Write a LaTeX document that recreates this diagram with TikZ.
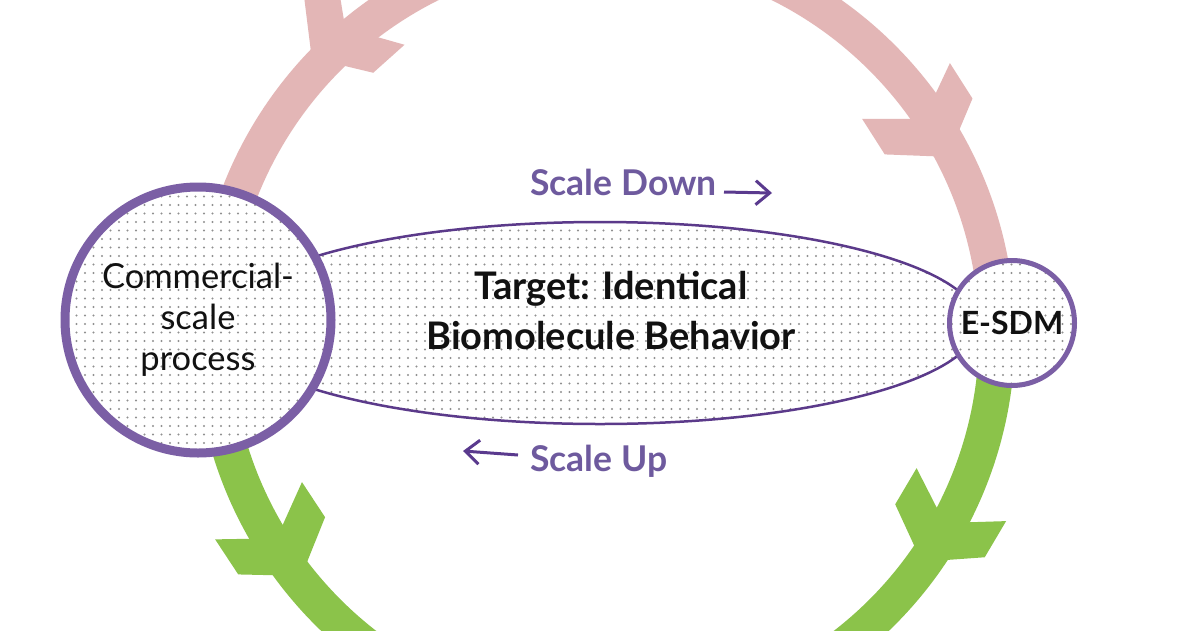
\documentclass[tikz,border=0pt]{standalone}
\usepackage{fontspec}
\setmainfont{Lato}
\usetikzlibrary{calc,arrows.meta,shapes.geometric,patterns}
\pgfdeclarepatternformonly{halftone}{\pgfqpoint{-1.5pt}{-1.5pt}}{\pgfqpoint{1.5pt}{1.5pt}}{\pgfqpoint{8.5pt}{8.5pt}}{\pgfpathcircle{\pgfqpoint{0pt}{0pt}}{1.1pt}\pgfusepath{fill}}
\definecolor{ringpink}{HTML}{E3B6B6}
\definecolor{ringgreen}{HTML}{8BC34A}
\definecolor{circpurple}{HTML}{7B5FA5}
\definecolor{ellpurple}{HTML}{5B3A8A}
\definecolor{labpurple}{HTML}{6E5A9E}
\definecolor{arrpurple}{HTML}{5A3A8E}
\definecolor{dotgray}{HTML}{909090}
\definecolor{txtblack}{HTML}{111111}
\newcommand\mychev[4]{%
  \begin{scope}[shift={($(C)+(#1:#2)$)},rotate=#3]
    \fill[#4] (34,0)--(-2,52)--(-44,52)--(-11,0)--(-44,-52)--(-2,-52)--cycle;
  \end{scope}}
\tikzset{
  band/.style={line width=36pt, line cap=butt},
  dotted fill/.style={preaction={fill=white}, pattern=halftone, pattern color=dotgray},
  bigcirc/.style={circle, draw=circpurple, line width=9pt, minimum size=266pt, inner sep=0pt,
    dotted fill, align=center, text=txtblack, font=\fontsize{34.5pt}{41pt}\selectfont},
  smallcirc/.style={circle, draw=circpurple, line width=5pt, minimum size=125pt, inner sep=0pt,
    dotted fill, text=txtblack, font=\fontsize{32pt}{40pt}\selectfont\bfseries},
  goal/.style={ellipse, draw=ellpurple, line width=2.5pt, minimum width=756pt, minimum height=202pt,
    inner sep=0pt, dotted fill},
  goaltext/.style={align=center, text=txtblack, font=\fontsize{38pt}{50pt}\selectfont\bfseries, inner sep=0pt},
  scalelab/.style={anchor=base west, text=labpurple, font=\fontsize{35.5pt}{40pt}\selectfont\bfseries, inner sep=0pt},
  scalearr/.style={draw=arrpurple, line width=3pt, -{Straight Barb[length=14pt,width=24pt]}},
}
\begin{document}
\begin{tikzpicture}[x=1pt,y=1pt]
  \useasboundingbox (0,0) rectangle (1200,-630);
  \clip (0,0) rectangle (1200,-630);
  \fill[white] (0,0) rectangle (1200,-630);
  \coordinate (C) at (605,-335);
  % ring
  \draw[band, ringpink] ($(C)+(-2:392)$) arc[start angle=-2, end angle=182, radius=392];
  \draw[band, ringgreen] ($(C)+(178:392)$) arc[start angle=178, end angle=362, radius=392];
  % chevrons
  \mychev{131.8}{402}{221.8}{ringpink}
  \mychev{32.5}{385}{-57.5}{ringpink}
  \mychev{213.4}{386}{303.4}{ringgreen}
  \mychev{329.4}{388}{239.4}{ringgreen}
  % target ellipse
  \node[goal] (tgt) at (600,-323) {};
  % circles
  \node[bigcirc] (csp) at (198,-320) {Commercial-\\scale\\process};
  \node[smallcirc] (esdm) at (1012,-323) {E-SDM};
  \node[goaltext] (tgtlab) at (611,-311) {Target: Identical\\Biomolecule Behavior};
  % scale labels
  \node[scalelab] (sdown) at (530,-195) {Scale Down};
  \node[scalelab] (sup) at (530,-471) {Scale Up};
  \coordinate (sdA) at (724,-192);
  \coordinate (sdB) at (772,-193);
  \coordinate (suA) at (518,-455);
  \coordinate (suB) at (463,-451);
  \draw[scalearr] (sdA) -- (sdB);
  \draw[scalearr] (suA) -- (suB);
\end{tikzpicture}
\end{document}
